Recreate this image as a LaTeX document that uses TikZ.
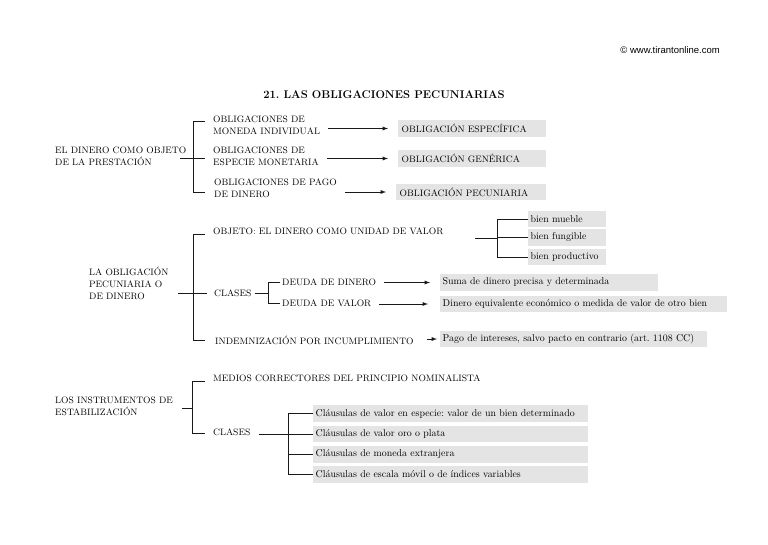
\documentclass[tikz,border=0pt]{standalone}
\usepackage{fontspec}
\newfontfamily\webfont{Liberation Sans}
\definecolor{boxgray}{RGB}{228,228,228}
\newcommand{\txt}{\fontsize{9.3}{12}\selectfont}
\newcommand{\boxtxt}{\fontsize{9.9}{12}\selectfont}

\begin{document}
\frenchspacing
\begin{tikzpicture}[x=1pt,y=-1pt,
  lbl/.style={anchor=west,inner sep=0pt,align=left,font=\txt},
  shade/.style={anchor=west,fill=boxgray,inner xsep=3.5pt,inner ysep=0pt,
    minimum height=16.5pt,text width=#1,align=left,font=\txt},
  lowbox/.style={shade=#1,inner xsep=2.5pt,font=\boxtxt},
  ln/.style={line width=0.9pt,black!90},
  arr/.style={ln,-latex}]
  \useasboundingbox (0,0) rectangle (768,544);
  \node[anchor=east,inner sep=0pt,font=\webfont\fontsize{9.5}{11}\selectfont] (web) at (720,50) {© www.tirantonline.com};
  \node[inner sep=0pt,font=\bfseries\fontsize{11.2}{13}\selectfont] (title) at (384,95) {21. LAS OBLIGACIONES PECUNIARIAS};
  % el dinero como objeto
  \node[lbl] (dinero) at (55,156) {EL DINERO COMO OBJETO\\DE LA PRESTACIÓN};
  \node[lbl] (moneda) at (213,125) {OBLIGACIONES DE\\MONEDA INDIVIDUAL};
  \node[lbl] (especie) at (213,156) {OBLIGACIONES DE\\ESPECIE MONETARIA};
  \node[lbl] (pago) at (214,188) {OBLIGACIONES DE PAGO\\DE DINERO};
  \node[shade=141pt] (especifica) at (398,128.5) {OBLIGACIÓN ESPECÍFICA};
  \node[shade=141pt] (generica) at (398,158.5) {OBLIGACIÓN GENÉRICA};
  \node[shade=143pt] (pecuniaria) at (396,192) {OBLIGACIÓN PECUNIARIA};
  \coordinate (sp1a) at (193,121);
  \coordinate (sp1b) at (193,192);
  \draw[ln] (180,158) -- (205,158);
  \draw[ln] (205,121) -- (sp1a) -- (sp1b) -- (205,192);
  \draw[arr,shorten <=8pt,shorten >=10pt] (moneda.east |- especifica.west) -- (especifica.west);
  \draw[arr,shorten <=8pt,shorten >=10pt] (especie.east |- generica.west) -- (generica.west);
  \draw[arr,shorten <=8pt,shorten >=10pt] (pago.east |- pecuniaria.west) -- (pecuniaria.west);
  % la obligacion pecuniaria
  \node[lbl] (oblig) at (89,283) {LA OBLIGACIÓN\\PECUNIARIA O\\DE DINERO};
  \node[lbl] (objeto) at (213,231) {OBJETO: EL DINERO COMO UNIDAD DE VALOR};
  \node[lbl] (clases) at (214,293) {CLASES};
  \node[lbl] (deudadin) at (282,282) {DEUDA DE DINERO};
  \node[lbl] (deudaval) at (282,303) {DEUDA DE VALOR};
  \node[lbl] (indem) at (215,340) {INDEMNIZACIÓN POR INCUMPLIMIENTO};
  \node[lowbox=73pt] (mueble) at (528,219) {bien mueble};
  \node[lowbox=73pt] (fungible) at (528,237.5) {bien fungible};
  \node[lowbox=73pt] (productivo) at (528,257) {bien productivo};
  \node[lowbox=213pt] (suma) at (440,282.5) {Suma de dinero precisa y determinada};
  \node[lowbox=282pt] (equiv) at (440,304) {Dinero equivalente económico o medida de valor de otro bien};
  \node[lowbox=262pt] (intereses) at (440,339) {Pago de intereses, salvo pacto en contrario (art. 1108 CC)};
  \draw[ln] (178,293) -- ([xshift=-7pt]clases.west);
  \draw[ln] (205,234) -- (193,234) -- (193,340) -- (205,340);
  \draw[ln] (475,238) -- (497,238);
  \draw[ln] (mueble.west) -- (497,219) -- (497,257) -- (productivo.west);
  \draw[ln] (497,237.5) -- (fungible.west);
  \draw[ln] ([xshift=3pt]clases.east) -- (268,293);
  \draw[ln] (280,282) -- (268,282) -- (268,303) -- (280,303);
  \draw[arr,shorten <=8pt,shorten >=10pt] (deudadin.east |- suma.west) -- (suma.west);
  \draw[arr,shorten <=8pt,shorten >=12pt] (deudaval.east |- equiv.west) -- (equiv.west);
  \draw[arr,shorten <=13pt,shorten >=3pt] (indem.east |- intereses.west) -- (intereses.west);
  % los instrumentos de estabilizacion
  \node[lbl] (instr) at (55,406) {LOS INSTRUMENTOS DE\\ESTABILIZACIÓN};
  \node[lbl] (medios) at (213,378) {MEDIOS CORRECTORES DEL PRINCIPIO NOMINALISTA};
  \node[lbl] (clases2) at (213,432) {CLASES};
  \node[lowbox=270pt] (especie2) at (313,413.5) {Cláusulas de valor en especie: valor de un bien determinado};
  \node[lowbox=270pt] (oro) at (313,434) {Cláusulas de valor oro o plata};
  \node[lowbox=270pt] (extranjera) at (313,454.5) {Cláusulas de moneda extranjera};
  \node[lowbox=270pt] (indices) at (313,474.5) {Cláusulas de escala móvil o de índices variables};
  \draw[ln] (182,408) -- (192,408);
  \draw[ln] (205,381) -- (192,381) -- (192,433) -- (205,433);
  \draw[ln] ([xshift=8pt]clases2.east |- oro.west) -- (oro.west);
  \draw[ln] (especie2.west) -- (288,413.5) -- (288,474.5) -- (indices.west);
  \draw[ln] (288,454.5) -- (extranjera.west);
\end{tikzpicture}
\end{document}
